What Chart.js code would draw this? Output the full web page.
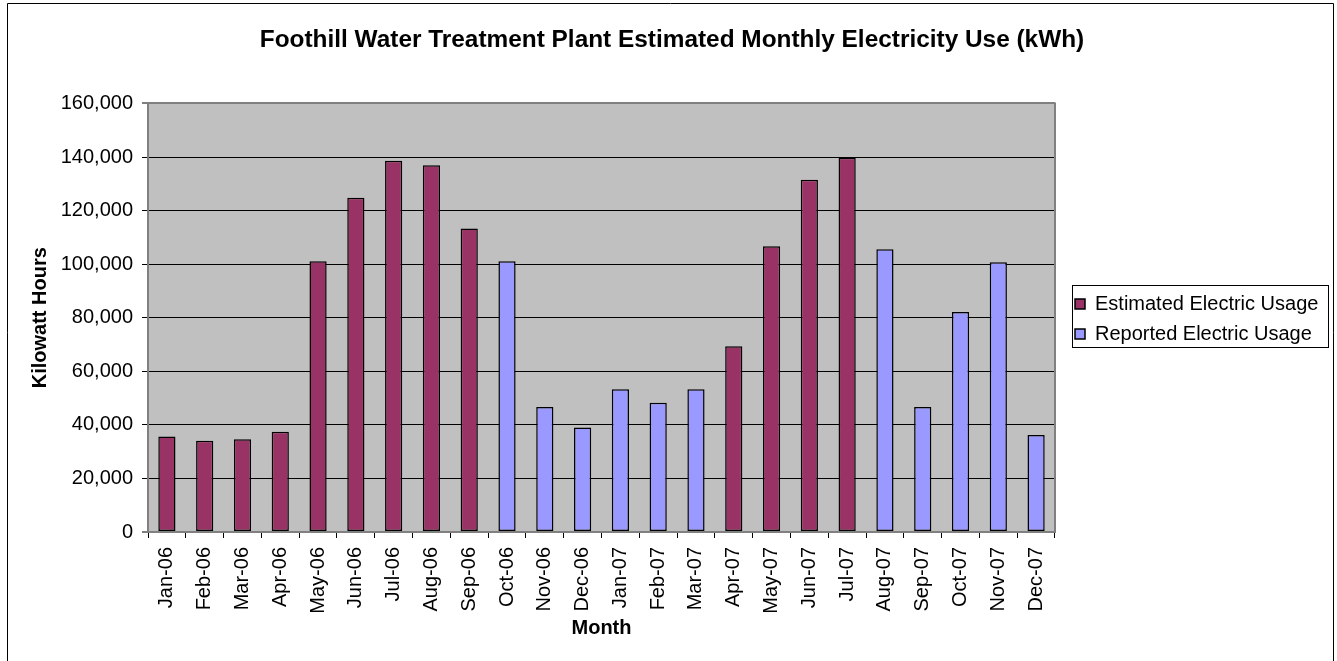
<!DOCTYPE html>
<html>
<head>
<meta charset="utf-8">
<title>Foothill Water Treatment Plant - Monthly Electricity Use</title>
<script src="https://cdn.jsdelivr.net/npm/chart.js@4.4.1/dist/chart.umd.min.js"></script>
<style>
  html, body { margin: 0; padding: 0; background: #fff; }
  #wrap { width: 1337px; height: 661px; position: relative; }
</style>
</head>
<body>
<div id="wrap"><canvas id="usageChart"></canvas></div>
<script>
// ---- Data ----
const months = [
  "Jan-06", "Feb-06", "Mar-06", "Apr-06", "May-06", "Jun-06",
  "Jul-06", "Aug-06", "Sep-06", "Oct-06", "Nov-06", "Dec-06",
  "Jan-07", "Feb-07", "Mar-07", "Apr-07", "May-07", "Jun-07",
  "Jul-07", "Aug-07", "Sep-07", "Oct-07", "Nov-07", "Dec-07"
];

// months with no meter reading were estimated
const estimatedKwh = [
  35700, 34100, 34600, 37400, 101100, 124800,
  138600, 136900, 113300, null, null, null,
  null, null, null, 69400, 106700, 131500,
  139700, null, null, null, null, null
];

const reportedKwh = [
  null, null, null, null, null, null,
  null, null, null, 101100, 46700, 39000,
  53300, 48300, 53300, null, null, null,
  null, 105600, 46700, 82100, 100700, 36200
];

const yMax = 160000;
const yStep = 20000;

// ---- Look ----
Chart.defaults.font.family = "'Liberation Sans', Arial, sans-serif";
Chart.defaults.color = "#000";

const GRID_GRAY = "#808080";

// ---- Plugins ----
// legend sits in a fixed-width column on the right, nudged off the plot edge
const legendSpace = {
  id: "legendSpace",
  beforeInit(chart) {
    const fit = chart.legend.fit;
    chart.legend.fit = function () {
      fit.call(this);
      this.width = 282;
    };
  },
  afterLayout(chart) {
    chart.legend.left += 10;
    chart.legend.top -= 20;
  }
};

// grey plot background, plot edge, outer border and legend box
const plotFrame = {
  id: "plotFrame",
  beforeDraw(chart) {
    const { ctx, chartArea: a } = chart;
    ctx.save();
    ctx.fillStyle = "#C0C0C0";
    ctx.fillRect(a.left, a.top, a.right - a.left, a.bottom - a.top);
    ctx.restore();
  },
  beforeDatasetsDraw(chart) {
    const { ctx, chartArea: a } = chart;
    ctx.save();
    ctx.strokeStyle = GRID_GRAY;
    ctx.lineWidth = 2;
    ctx.beginPath();
    ctx.moveTo(a.right, a.top - 1);
    ctx.lineTo(a.right, a.bottom + 1);
    ctx.stroke();
    ctx.restore();
  },
  afterDraw(chart) {
    const { ctx, chartArea: a, height } = chart;
    const lg = chart.legend;
    const mid = (a.top + a.bottom) / 2;
    ctx.save();
    ctx.strokeStyle = "#000";
    ctx.lineWidth = 1;
    // outer border runs off the bottom edge
    ctx.beginPath();
    ctx.moveTo(7.5, height);
    ctx.lineTo(7.5, 3.5);
    ctx.lineTo(1333.5, 3.5);
    ctx.lineTo(1333.5, height);
    ctx.stroke();
    ctx.strokeRect(Math.round(lg.left + 7) + 0.5, Math.round(mid - 32.5) + 0.5, 256, 62);
    ctx.restore();
  }
};

// ---- Chart ----
const edgeLine = (c) => c.tick && (c.tick.value === 0 || c.tick.value === yMax);

new Chart(document.getElementById("usageChart"), {
  type: "bar",
  data: {
    labels: months,
    datasets: [
      {
        label: "Estimated Electric Usage",
        data: estimatedKwh,
        backgroundColor: "#993366",
        borderColor: "#000",
        borderWidth: 1.5,
        borderSkipped: false
      },
      {
        label: "Reported Electric Usage",
        data: reportedKwh,
        backgroundColor: "#9999FF",
        borderColor: "#000",
        borderWidth: 1.5,
        borderSkipped: false
      }
    ]
  },
  options: {
    responsive: true,
    maintainAspectRatio: false,
    animation: false,
    devicePixelRatio: 1,
    layout: { padding: { left: 7, right: 0, top: 0, bottom: 3 } },
    datasets: {
      bar: { categoryPercentage: 1, barPercentage: 0.455 }
    },
    scales: {
      x: {
        stacked: true,
        grid: {
          offset: true,
          drawOnChartArea: false,
          tickLength: 6,
          tickColor: "#000"
        },
        border: { color: GRID_GRAY, width: 2 },
        ticks: {
          color: "#000",
          font: { size: 20 },
          minRotation: 90,
          maxRotation: 90,
          autoSkip: false,
          padding: 9
        },
        title: {
          display: true,
          text: "Month",
          color: "#000",
          font: { size: 20, weight: "bold" },
          padding: { top: 0, bottom: 18 }
        },
        afterFit(scale) { scale.height = 126; }
      },
      y: {
        stacked: true,
        min: 0,
        max: yMax,
        ticks: {
          stepSize: yStep,
          color: "#000",
          font: { size: 20 },
          padding: 9,
          callback: (v) => v.toLocaleString("en-US")
        },
        grid: {
          color: (c) => (edgeLine(c) ? GRID_GRAY : "#000"),
          lineWidth: (c) => (edgeLine(c) ? 2 : 1),
          tickLength: 6,
          tickColor: "#000",
          tickWidth: 1
        },
        border: { color: GRID_GRAY, width: 2 },
        title: {
          display: true,
          text: "Kilowatt Hours",
          color: "#000",
          font: { size: 20, weight: "bold" },
          padding: { top: 21, bottom: 0 }
        },
        afterFit(scale) { scale.width = 141; }
      }
    },
    plugins: {
      title: {
        display: true,
        text: "Foothill Water Treatment Plant Estimated Monthly Electricity Use (kWh)",
        color: "#000",
        font: { size: 24.4, weight: "bold" },
        padding: { top: 26, bottom: 48.2 }
      },
      legend: {
        position: "right",
        labels: {
          color: "#000",
          font: { size: 20 },
          boxWidth: 10,
          boxHeight: 10,
          padding: 10
        }
      },
      tooltip: { enabled: false }
    }
  },
  plugins: [legendSpace, plotFrame]
});
</script>
</body>
</html>
